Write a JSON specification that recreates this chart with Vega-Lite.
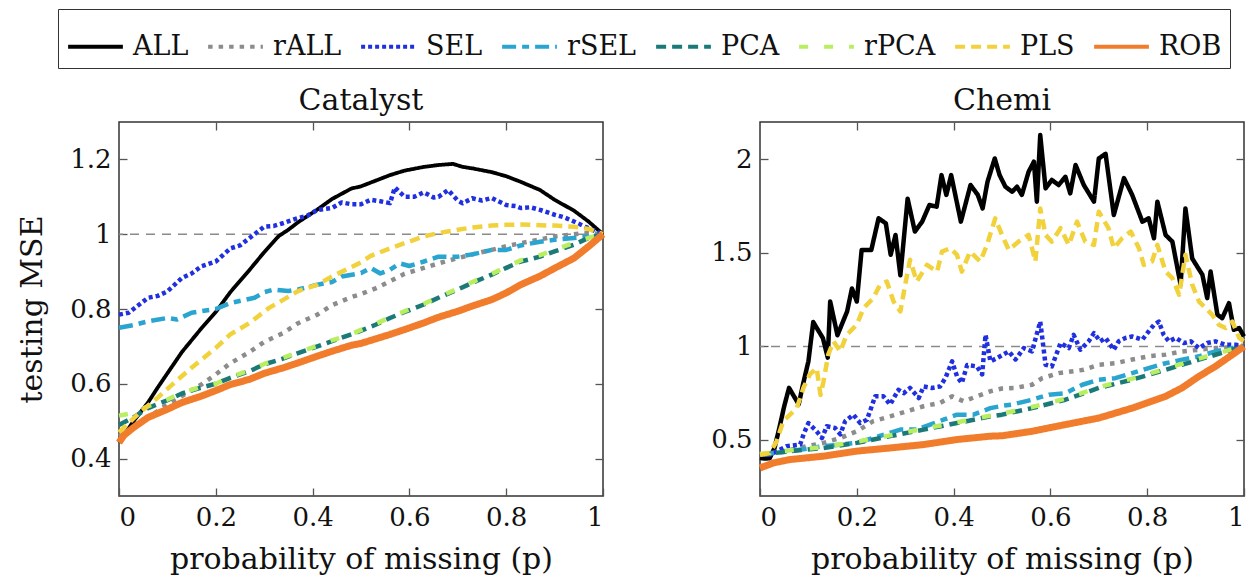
{
  "$schema": "https://vega.github.io/schema/vega-lite/v6.json",
  "padding": {"left": 16, "top": 8, "right": 4, "bottom": 4},
  "background": "white",
  "config": {
    "font": "DejaVu Serif",
    "view": {"stroke": "#333", "strokeWidth": 1.5},
    "axis": {
      "labelFont": "DejaVu Serif", "labelFontSize": 26, "labelColor": "#111",
      "titleFont": "DejaVu Serif", "titleFontSize": 30, "titleFontWeight": "normal", "titleColor": "#111",
      "domain": false, "grid": false, "tickColor": "#555", "tickWidth": 1.3, "tickSize": -8, "labelPadding": 16
    },
    "title": {"font": "DejaVu Serif", "fontSize": 30, "fontWeight": "normal", "color": "#111", "offset": 5},
    "line": {"strokeCap": "butt", "strokeJoin": "round"}
  },
  "datasets": {
    "cat": [
      {"m":"ALL","p":0,"v":0.443},{"m":"ALL","p":0.01,"v":0.462},{"m":"ALL","p":0.03,"v":0.5},{"m":"ALL","p":0.06,"v":0.55},{"m":"ALL","p":0.08,"v":0.59},{"m":"ALL","p":0.1,"v":0.628},{"m":"ALL","p":0.13,"v":0.685},{"m":"ALL","p":0.17,"v":0.748},{"m":"ALL","p":0.2,"v":0.792},{"m":"ALL","p":0.23,"v":0.845},{"m":"ALL","p":0.27,"v":0.905},{"m":"ALL","p":0.3,"v":0.952},{"m":"ALL","p":0.33,"v":0.995},{"m":"ALL","p":0.35,"v":1.012},{"m":"ALL","p":0.37,"v":1.032},{"m":"ALL","p":0.41,"v":1.066},{"m":"ALL","p":0.44,"v":1.094},{"m":"ALL","p":0.48,"v":1.122},{"m":"ALL","p":0.5,"v":1.128},{"m":"ALL","p":0.52,"v":1.138},{"m":"ALL","p":0.56,"v":1.158},{"m":"ALL","p":0.59,"v":1.17},{"m":"ALL","p":0.63,"v":1.18},{"m":"ALL","p":0.66,"v":1.185},{"m":"ALL","p":0.69,"v":1.188},{"m":"ALL","p":0.71,"v":1.18},{"m":"ALL","p":0.73,"v":1.176},{"m":"ALL","p":0.77,"v":1.166},{"m":"ALL","p":0.8,"v":1.155},{"m":"ALL","p":0.83,"v":1.14},{"m":"ALL","p":0.87,"v":1.118},{"m":"ALL","p":0.9,"v":1.092},{"m":"ALL","p":0.94,"v":1.063},{"m":"ALL","p":0.97,"v":1.034},{"m":"ALL","p":1,"v":1.0},
      {"m":"rALL","p":0,"v":0.46},{"m":"rALL","p":0.05,"v":0.5},{"m":"rALL","p":0.1,"v":0.545},{"m":"rALL","p":0.14,"v":0.575},{"m":"rALL","p":0.17,"v":0.598},{"m":"rALL","p":0.2,"v":0.625},{"m":"rALL","p":0.23,"v":0.655},{"m":"rALL","p":0.27,"v":0.685},{"m":"rALL","p":0.3,"v":0.712},{"m":"rALL","p":0.34,"v":0.736},{"m":"rALL","p":0.37,"v":0.762},{"m":"rALL","p":0.41,"v":0.785},{"m":"rALL","p":0.44,"v":0.81},{"m":"rALL","p":0.48,"v":0.832},{"m":"rALL","p":0.5,"v":0.84},{"m":"rALL","p":0.53,"v":0.855},{"m":"rALL","p":0.56,"v":0.874},{"m":"rALL","p":0.59,"v":0.894},{"m":"rALL","p":0.63,"v":0.91},{"m":"rALL","p":0.66,"v":0.922},{"m":"rALL","p":0.7,"v":0.936},{"m":"rALL","p":0.73,"v":0.946},{"m":"rALL","p":0.77,"v":0.958},{"m":"rALL","p":0.8,"v":0.968},{"m":"rALL","p":0.83,"v":0.976},{"m":"rALL","p":0.87,"v":0.986},{"m":"rALL","p":0.9,"v":0.994},{"m":"rALL","p":0.94,"v":1.0},{"m":"rALL","p":0.97,"v":1.003},{"m":"rALL","p":1,"v":1.0},
      {"m":"SEL","p":0,"v":0.785},{"m":"SEL","p":0.02,"v":0.79},{"m":"SEL","p":0.04,"v":0.81},{"m":"SEL","p":0.06,"v":0.83},{"m":"SEL","p":0.08,"v":0.835},{"m":"SEL","p":0.1,"v":0.847},{"m":"SEL","p":0.13,"v":0.883},{"m":"SEL","p":0.15,"v":0.895},{"m":"SEL","p":0.17,"v":0.914},{"m":"SEL","p":0.2,"v":0.927},{"m":"SEL","p":0.23,"v":0.962},{"m":"SEL","p":0.25,"v":0.97},{"m":"SEL","p":0.27,"v":0.99},{"m":"SEL","p":0.3,"v":1.02},{"m":"SEL","p":0.32,"v":1.022},{"m":"SEL","p":0.34,"v":1.03},{"m":"SEL","p":0.37,"v":1.043},{"m":"SEL","p":0.39,"v":1.05},{"m":"SEL","p":0.41,"v":1.065},{"m":"SEL","p":0.44,"v":1.07},{"m":"SEL","p":0.46,"v":1.085},{"m":"SEL","p":0.48,"v":1.08},{"m":"SEL","p":0.5,"v":1.08},{"m":"SEL","p":0.52,"v":1.092},{"m":"SEL","p":0.54,"v":1.088},{"m":"SEL","p":0.56,"v":1.083},{"m":"SEL","p":0.57,"v":1.125},{"m":"SEL","p":0.59,"v":1.1},{"m":"SEL","p":0.61,"v":1.1},{"m":"SEL","p":0.63,"v":1.112},{"m":"SEL","p":0.65,"v":1.098},{"m":"SEL","p":0.66,"v":1.1},{"m":"SEL","p":0.68,"v":1.118},{"m":"SEL","p":0.7,"v":1.09},{"m":"SEL","p":0.71,"v":1.083},{"m":"SEL","p":0.73,"v":1.096},{"m":"SEL","p":0.75,"v":1.09},{"m":"SEL","p":0.77,"v":1.097},{"m":"SEL","p":0.8,"v":1.078},{"m":"SEL","p":0.82,"v":1.075},{"m":"SEL","p":0.83,"v":1.07},{"m":"SEL","p":0.85,"v":1.072},{"m":"SEL","p":0.87,"v":1.065},{"m":"SEL","p":0.9,"v":1.052},{"m":"SEL","p":0.92,"v":1.045},{"m":"SEL","p":0.94,"v":1.034},{"m":"SEL","p":0.97,"v":1.016},{"m":"SEL","p":1,"v":1.0},
      {"m":"rSEL","p":0,"v":0.75},{"m":"rSEL","p":0.03,"v":0.757},{"m":"rSEL","p":0.06,"v":0.767},{"m":"rSEL","p":0.1,"v":0.776},{"m":"rSEL","p":0.12,"v":0.772},{"m":"rSEL","p":0.15,"v":0.79},{"m":"rSEL","p":0.2,"v":0.8},{"m":"rSEL","p":0.23,"v":0.816},{"m":"rSEL","p":0.28,"v":0.83},{"m":"rSEL","p":0.3,"v":0.845},{"m":"rSEL","p":0.32,"v":0.852},{"m":"rSEL","p":0.35,"v":0.848},{"m":"rSEL","p":0.37,"v":0.852},{"m":"rSEL","p":0.41,"v":0.865},{"m":"rSEL","p":0.44,"v":0.872},{"m":"rSEL","p":0.46,"v":0.887},{"m":"rSEL","p":0.5,"v":0.896},{"m":"rSEL","p":0.52,"v":0.91},{"m":"rSEL","p":0.54,"v":0.895},{"m":"rSEL","p":0.56,"v":0.905},{"m":"rSEL","p":0.58,"v":0.922},{"m":"rSEL","p":0.6,"v":0.915},{"m":"rSEL","p":0.63,"v":0.927},{"m":"rSEL","p":0.66,"v":0.94},{"m":"rSEL","p":0.7,"v":0.94},{"m":"rSEL","p":0.73,"v":0.946},{"m":"rSEL","p":0.77,"v":0.958},{"m":"rSEL","p":0.8,"v":0.958},{"m":"rSEL","p":0.83,"v":0.97},{"m":"rSEL","p":0.87,"v":0.98},{"m":"rSEL","p":0.9,"v":0.985},{"m":"rSEL","p":0.94,"v":0.99},{"m":"rSEL","p":0.97,"v":0.994},{"m":"rSEL","p":1,"v":1.0},
      {"m":"PCA","p":0,"v":0.49},{"m":"PCA","p":0.03,"v":0.51},{"m":"PCA","p":0.06,"v":0.535},{"m":"PCA","p":0.1,"v":0.556},{"m":"PCA","p":0.13,"v":0.574},{"m":"PCA","p":0.17,"v":0.59},{"m":"PCA","p":0.2,"v":0.6},{"m":"PCA","p":0.23,"v":0.616},{"m":"PCA","p":0.27,"v":0.634},{"m":"PCA","p":0.3,"v":0.652},{"m":"PCA","p":0.34,"v":0.668},{"m":"PCA","p":0.37,"v":0.682},{"m":"PCA","p":0.41,"v":0.7},{"m":"PCA","p":0.44,"v":0.714},{"m":"PCA","p":0.48,"v":0.732},{"m":"PCA","p":0.5,"v":0.742},{"m":"PCA","p":0.53,"v":0.758},{"m":"PCA","p":0.56,"v":0.776},{"m":"PCA","p":0.59,"v":0.792},{"m":"PCA","p":0.63,"v":0.812},{"m":"PCA","p":0.66,"v":0.83},{"m":"PCA","p":0.7,"v":0.852},{"m":"PCA","p":0.73,"v":0.87},{"m":"PCA","p":0.77,"v":0.892},{"m":"PCA","p":0.8,"v":0.91},{"m":"PCA","p":0.83,"v":0.927},{"m":"PCA","p":0.87,"v":0.94},{"m":"PCA","p":0.9,"v":0.954},{"m":"PCA","p":0.94,"v":0.972},{"m":"PCA","p":0.97,"v":0.99},{"m":"PCA","p":1,"v":1.0},
      {"m":"rPCA","p":0,"v":0.515},{"m":"rPCA","p":0.03,"v":0.522},{"m":"rPCA","p":0.06,"v":0.54},{"m":"rPCA","p":0.1,"v":0.558},{"m":"rPCA","p":0.13,"v":0.576},{"m":"rPCA","p":0.17,"v":0.592},{"m":"rPCA","p":0.2,"v":0.6},{"m":"rPCA","p":0.23,"v":0.618},{"m":"rPCA","p":0.27,"v":0.636},{"m":"rPCA","p":0.3,"v":0.653},{"m":"rPCA","p":0.34,"v":0.67},{"m":"rPCA","p":0.37,"v":0.684},{"m":"rPCA","p":0.41,"v":0.702},{"m":"rPCA","p":0.44,"v":0.716},{"m":"rPCA","p":0.48,"v":0.733},{"m":"rPCA","p":0.5,"v":0.744},{"m":"rPCA","p":0.53,"v":0.76},{"m":"rPCA","p":0.56,"v":0.778},{"m":"rPCA","p":0.59,"v":0.794},{"m":"rPCA","p":0.63,"v":0.814},{"m":"rPCA","p":0.66,"v":0.832},{"m":"rPCA","p":0.7,"v":0.854},{"m":"rPCA","p":0.73,"v":0.872},{"m":"rPCA","p":0.77,"v":0.894},{"m":"rPCA","p":0.8,"v":0.912},{"m":"rPCA","p":0.83,"v":0.93},{"m":"rPCA","p":0.87,"v":0.944},{"m":"rPCA","p":0.9,"v":0.958},{"m":"rPCA","p":0.94,"v":0.977},{"m":"rPCA","p":0.97,"v":0.99},{"m":"rPCA","p":1,"v":1.0},
      {"m":"PLS","p":0,"v":0.47},{"m":"PLS","p":0.04,"v":0.52},{"m":"PLS","p":0.08,"v":0.563},{"m":"PLS","p":0.11,"v":0.598},{"m":"PLS","p":0.15,"v":0.643},{"m":"PLS","p":0.2,"v":0.696},{"m":"PLS","p":0.23,"v":0.732},{"m":"PLS","p":0.27,"v":0.763},{"m":"PLS","p":0.31,"v":0.803},{"m":"PLS","p":0.34,"v":0.825},{"m":"PLS","p":0.37,"v":0.848},{"m":"PLS","p":0.41,"v":0.865},{"m":"PLS","p":0.44,"v":0.887},{"m":"PLS","p":0.48,"v":0.912},{"m":"PLS","p":0.5,"v":0.925},{"m":"PLS","p":0.52,"v":0.942},{"m":"PLS","p":0.56,"v":0.962},{"m":"PLS","p":0.59,"v":0.976},{"m":"PLS","p":0.63,"v":0.994},{"m":"PLS","p":0.66,"v":1.003},{"m":"PLS","p":0.7,"v":1.012},{"m":"PLS","p":0.73,"v":1.018},{"m":"PLS","p":0.77,"v":1.023},{"m":"PLS","p":0.8,"v":1.025},{"m":"PLS","p":0.83,"v":1.026},{"m":"PLS","p":0.87,"v":1.024},{"m":"PLS","p":0.9,"v":1.023},{"m":"PLS","p":0.94,"v":1.02},{"m":"PLS","p":0.97,"v":1.014},{"m":"PLS","p":1,"v":1.0},
      {"m":"ROB","p":0,"v":0.443},{"m":"ROB","p":0.01,"v":0.462},{"m":"ROB","p":0.03,"v":0.483},{"m":"ROB","p":0.06,"v":0.51},{"m":"ROB","p":0.1,"v":0.532},{"m":"ROB","p":0.13,"v":0.55},{"m":"ROB","p":0.17,"v":0.567},{"m":"ROB","p":0.2,"v":0.582},{"m":"ROB","p":0.23,"v":0.598},{"m":"ROB","p":0.27,"v":0.612},{"m":"ROB","p":0.3,"v":0.628},{"m":"ROB","p":0.34,"v":0.643},{"m":"ROB","p":0.37,"v":0.656},{"m":"ROB","p":0.41,"v":0.674},{"m":"ROB","p":0.44,"v":0.687},{"m":"ROB","p":0.48,"v":0.703},{"m":"ROB","p":0.5,"v":0.708},{"m":"ROB","p":0.53,"v":0.72},{"m":"ROB","p":0.56,"v":0.732},{"m":"ROB","p":0.59,"v":0.745},{"m":"ROB","p":0.63,"v":0.763},{"m":"ROB","p":0.66,"v":0.778},{"m":"ROB","p":0.7,"v":0.794},{"m":"ROB","p":0.73,"v":0.808},{"m":"ROB","p":0.77,"v":0.825},{"m":"ROB","p":0.8,"v":0.843},{"m":"ROB","p":0.83,"v":0.865},{"m":"ROB","p":0.87,"v":0.888},{"m":"ROB","p":0.9,"v":0.909},{"m":"ROB","p":0.94,"v":0.936},{"m":"ROB","p":0.97,"v":0.967},{"m":"ROB","p":1,"v":1.0}
    ],
    "che": [
      {"m":"ALL","p":0,"v":0.404},{"m":"ALL","p":0.01,"v":0.4},{"m":"ALL","p":0.02,"v":0.402},{"m":"ALL","p":0.03,"v":0.457},{"m":"ALL","p":0.04,"v":0.564},{"m":"ALL","p":0.05,"v":0.68},{"m":"ALL","p":0.06,"v":0.778},{"m":"ALL","p":0.08,"v":0.69},{"m":"ALL","p":0.09,"v":0.81},{"m":"ALL","p":0.1,"v":0.92},{"m":"ALL","p":0.11,"v":1.13},{"m":"ALL","p":0.13,"v":1.044},{"m":"ALL","p":0.14,"v":0.94},{"m":"ALL","p":0.145,"v":1.24},{"m":"ALL","p":0.16,"v":1.06},{"m":"ALL","p":0.18,"v":1.187},{"m":"ALL","p":0.19,"v":1.31},{"m":"ALL","p":0.2,"v":1.24},{"m":"ALL","p":0.21,"v":1.516},{"m":"ALL","p":0.23,"v":1.516},{"m":"ALL","p":0.245,"v":1.685},{"m":"ALL","p":0.26,"v":1.658},{"m":"ALL","p":0.27,"v":1.49},{"m":"ALL","p":0.28,"v":1.596},{"m":"ALL","p":0.29,"v":1.38},{"m":"ALL","p":0.305,"v":1.79},{"m":"ALL","p":0.32,"v":1.614},{"m":"ALL","p":0.335,"v":1.667},{"m":"ALL","p":0.35,"v":1.756},{"m":"ALL","p":0.365,"v":1.747},{"m":"ALL","p":0.375,"v":1.916},{"m":"ALL","p":0.385,"v":1.81},{"m":"ALL","p":0.395,"v":1.916},{"m":"ALL","p":0.415,"v":1.667},{"m":"ALL","p":0.435,"v":1.863},{"m":"ALL","p":0.45,"v":1.81},{"m":"ALL","p":0.46,"v":1.738},{"m":"ALL","p":0.47,"v":1.88},{"m":"ALL","p":0.485,"v":2.005},{"m":"ALL","p":0.495,"v":1.916},{"m":"ALL","p":0.507,"v":1.854},{"m":"ALL","p":0.521,"v":1.827},{"m":"ALL","p":0.531,"v":1.854},{"m":"ALL","p":0.541,"v":1.81},{"m":"ALL","p":0.555,"v":1.934},{"m":"ALL","p":0.566,"v":1.988},{"m":"ALL","p":0.572,"v":1.774},{"m":"ALL","p":0.579,"v":2.13},{"m":"ALL","p":0.59,"v":1.845},{"m":"ALL","p":0.603,"v":1.89},{"m":"ALL","p":0.617,"v":1.863},{"m":"ALL","p":0.631,"v":1.907},{"m":"ALL","p":0.641,"v":1.818},{"m":"ALL","p":0.652,"v":1.97},{"m":"ALL","p":0.669,"v":1.863},{"m":"ALL","p":0.69,"v":1.774},{"m":"ALL","p":0.7,"v":2.005},{"m":"ALL","p":0.714,"v":2.03},{"m":"ALL","p":0.731,"v":1.703},{"m":"ALL","p":0.752,"v":1.9},{"m":"ALL","p":0.769,"v":1.81},{"m":"ALL","p":0.79,"v":1.667},{"m":"ALL","p":0.803,"v":1.685},{"m":"ALL","p":0.814,"v":1.578},{"m":"ALL","p":0.821,"v":1.774},{"m":"ALL","p":0.838,"v":1.596},{"m":"ALL","p":0.852,"v":1.56},{"m":"ALL","p":0.869,"v":1.33},{"m":"ALL","p":0.879,"v":1.738},{"m":"ALL","p":0.893,"v":1.47},{"m":"ALL","p":0.914,"v":1.383},{"m":"ALL","p":0.924,"v":1.258},{"m":"ALL","p":0.931,"v":1.4},{"m":"ALL","p":0.945,"v":1.17},{"m":"ALL","p":0.955,"v":1.151},{"m":"ALL","p":0.969,"v":1.231},{"m":"ALL","p":0.979,"v":1.089},{"m":"ALL","p":0.99,"v":1.098},{"m":"ALL","p":1,"v":1.053},
      {"m":"rALL","p":0,"v":0.42},{"m":"rALL","p":0.05,"v":0.44},{"m":"rALL","p":0.097,"v":0.466},{"m":"rALL","p":0.131,"v":0.484},{"m":"rALL","p":0.166,"v":0.51},{"m":"rALL","p":0.2,"v":0.546},{"m":"rALL","p":0.234,"v":0.6},{"m":"rALL","p":0.269,"v":0.626},{"m":"rALL","p":0.303,"v":0.653},{"m":"rALL","p":0.338,"v":0.68},{"m":"rALL","p":0.372,"v":0.698},{"m":"rALL","p":0.397,"v":0.733},{"m":"rALL","p":0.421,"v":0.706},{"m":"rALL","p":0.448,"v":0.733},{"m":"rALL","p":0.476,"v":0.76},{"m":"rALL","p":0.5,"v":0.775},{"m":"rALL","p":0.528,"v":0.778},{"m":"rALL","p":0.562,"v":0.795},{"m":"rALL","p":0.583,"v":0.83},{"m":"rALL","p":0.617,"v":0.857},{"m":"rALL","p":0.669,"v":0.875},{"m":"rALL","p":0.7,"v":0.902},{"m":"rALL","p":0.734,"v":0.91},{"m":"rALL","p":0.769,"v":0.93},{"m":"rALL","p":0.803,"v":0.947},{"m":"rALL","p":0.838,"v":0.956},{"m":"rALL","p":0.872,"v":0.973},{"m":"rALL","p":0.907,"v":0.982},{"m":"rALL","p":0.941,"v":0.991},{"m":"rALL","p":0.976,"v":0.995},{"m":"rALL","p":1,"v":1.0},
      {"m":"SEL","p":0,"v":0.42},{"m":"SEL","p":0.02,"v":0.42},{"m":"SEL","p":0.055,"v":0.466},{"m":"SEL","p":0.083,"v":0.475},{"m":"SEL","p":0.09,"v":0.53},{"m":"SEL","p":0.1,"v":0.59},{"m":"SEL","p":0.117,"v":0.546},{"m":"SEL","p":0.128,"v":0.51},{"m":"SEL","p":0.138,"v":0.573},{"m":"SEL","p":0.155,"v":0.564},{"m":"SEL","p":0.166,"v":0.53},{"m":"SEL","p":0.176,"v":0.6},{"m":"SEL","p":0.193,"v":0.635},{"m":"SEL","p":0.207,"v":0.59},{"m":"SEL","p":0.221,"v":0.608},{"m":"SEL","p":0.238,"v":0.733},{"m":"SEL","p":0.255,"v":0.733},{"m":"SEL","p":0.269,"v":0.689},{"m":"SEL","p":0.286,"v":0.768},{"m":"SEL","p":0.297,"v":0.75},{"m":"SEL","p":0.31,"v":0.778},{"m":"SEL","p":0.328,"v":0.724},{"m":"SEL","p":0.338,"v":0.786},{"m":"SEL","p":0.355,"v":0.778},{"m":"SEL","p":0.372,"v":0.786},{"m":"SEL","p":0.383,"v":0.83},{"m":"SEL","p":0.397,"v":0.92},{"m":"SEL","p":0.407,"v":0.84},{"m":"SEL","p":0.417,"v":0.804},{"m":"SEL","p":0.428,"v":0.9},{"m":"SEL","p":0.448,"v":0.893},{"m":"SEL","p":0.459,"v":0.85},{"m":"SEL","p":0.466,"v":1.062},{"m":"SEL","p":0.476,"v":0.92},{"m":"SEL","p":0.49,"v":0.938},{"m":"SEL","p":0.514,"v":0.973},{"m":"SEL","p":0.528,"v":0.93},{"m":"SEL","p":0.545,"v":0.991},{"m":"SEL","p":0.562,"v":0.973},{"m":"SEL","p":0.579,"v":1.133},{"m":"SEL","p":0.59,"v":0.902},{"m":"SEL","p":0.603,"v":0.893},{"m":"SEL","p":0.621,"v":1.018},{"m":"SEL","p":0.638,"v":0.991},{"m":"SEL","p":0.648,"v":1.062},{"m":"SEL","p":0.662,"v":0.982},{"m":"SEL","p":0.679,"v":1.027},{"m":"SEL","p":0.69,"v":1.071},{"m":"SEL","p":0.703,"v":1.027},{"m":"SEL","p":0.714,"v":1.045},{"m":"SEL","p":0.731,"v":0.982},{"m":"SEL","p":0.741,"v":1.027},{"m":"SEL","p":0.755,"v":1.045},{"m":"SEL","p":0.769,"v":1.053},{"m":"SEL","p":0.79,"v":1.036},{"m":"SEL","p":0.803,"v":1.08},{"m":"SEL","p":0.814,"v":1.116},{"m":"SEL","p":0.824,"v":1.133},{"m":"SEL","p":0.834,"v":1.062},{"m":"SEL","p":0.845,"v":1.027},{"m":"SEL","p":0.859,"v":1.045},{"m":"SEL","p":0.876,"v":1.018},{"m":"SEL","p":0.89,"v":1.027},{"m":"SEL","p":0.907,"v":0.991},{"m":"SEL","p":0.924,"v":1.018},{"m":"SEL","p":0.941,"v":1.027},{"m":"SEL","p":0.962,"v":1.009},{"m":"SEL","p":0.983,"v":1.009},{"m":"SEL","p":1,"v":1.0},
      {"m":"rSEL","p":0,"v":0.42},{"m":"rSEL","p":0.062,"v":0.44},{"m":"rSEL","p":0.131,"v":0.466},{"m":"rSEL","p":0.2,"v":0.484},{"m":"rSEL","p":0.234,"v":0.51},{"m":"rSEL","p":0.29,"v":0.555},{"m":"rSEL","p":0.324,"v":0.555},{"m":"rSEL","p":0.379,"v":0.608},{"m":"rSEL","p":0.407,"v":0.635},{"m":"rSEL","p":0.441,"v":0.635},{"m":"rSEL","p":0.476,"v":0.67},{"m":"rSEL","p":0.5,"v":0.682},{"m":"rSEL","p":0.521,"v":0.689},{"m":"rSEL","p":0.562,"v":0.715},{"m":"rSEL","p":0.597,"v":0.742},{"m":"rSEL","p":0.631,"v":0.75},{"m":"rSEL","p":0.666,"v":0.795},{"m":"rSEL","p":0.7,"v":0.822},{"m":"rSEL","p":0.734,"v":0.83},{"m":"rSEL","p":0.769,"v":0.857},{"m":"rSEL","p":0.803,"v":0.884},{"m":"rSEL","p":0.838,"v":0.91},{"m":"rSEL","p":0.872,"v":0.929},{"m":"rSEL","p":0.907,"v":0.947},{"m":"rSEL","p":0.941,"v":0.973},{"m":"rSEL","p":0.976,"v":0.991},{"m":"rSEL","p":1,"v":1.0},
      {"m":"PCA","p":0,"v":0.42},{"m":"PCA","p":0.062,"v":0.44},{"m":"PCA","p":0.131,"v":0.457},{"m":"PCA","p":0.2,"v":0.484},{"m":"PCA","p":0.269,"v":0.52},{"m":"PCA","p":0.338,"v":0.555},{"m":"PCA","p":0.407,"v":0.59},{"m":"PCA","p":0.476,"v":0.626},{"m":"PCA","p":0.5,"v":0.635},{"m":"PCA","p":0.562,"v":0.67},{"m":"PCA","p":0.631,"v":0.715},{"m":"PCA","p":0.7,"v":0.778},{"m":"PCA","p":0.769,"v":0.822},{"m":"PCA","p":0.838,"v":0.875},{"m":"PCA","p":0.907,"v":0.929},{"m":"PCA","p":0.976,"v":0.982},{"m":"PCA","p":1,"v":1.0},
      {"m":"rPCA","p":0,"v":0.425},{"m":"rPCA","p":0.062,"v":0.444},{"m":"rPCA","p":0.131,"v":0.462},{"m":"rPCA","p":0.2,"v":0.49},{"m":"rPCA","p":0.269,"v":0.524},{"m":"rPCA","p":0.338,"v":0.56},{"m":"rPCA","p":0.407,"v":0.594},{"m":"rPCA","p":0.476,"v":0.63},{"m":"rPCA","p":0.5,"v":0.64},{"m":"rPCA","p":0.562,"v":0.676},{"m":"rPCA","p":0.631,"v":0.72},{"m":"rPCA","p":0.7,"v":0.782},{"m":"rPCA","p":0.769,"v":0.828},{"m":"rPCA","p":0.838,"v":0.88},{"m":"rPCA","p":0.907,"v":0.935},{"m":"rPCA","p":0.976,"v":0.985},{"m":"rPCA","p":1,"v":1.0},
      {"m":"PLS","p":0,"v":0.42},{"m":"PLS","p":0.02,"v":0.43},{"m":"PLS","p":0.034,"v":0.49},{"m":"PLS","p":0.048,"v":0.6},{"m":"PLS","p":0.062,"v":0.635},{"m":"PLS","p":0.076,"v":0.67},{"m":"PLS","p":0.09,"v":0.78},{"m":"PLS","p":0.103,"v":0.85},{"m":"PLS","p":0.117,"v":0.885},{"m":"PLS","p":0.125,"v":0.74},{"m":"PLS","p":0.131,"v":0.81},{"m":"PLS","p":0.141,"v":0.956},{"m":"PLS","p":0.152,"v":1.027},{"m":"PLS","p":0.166,"v":0.973},{"m":"PLS","p":0.179,"v":1.062},{"m":"PLS","p":0.2,"v":1.116},{"m":"PLS","p":0.214,"v":1.205},{"m":"PLS","p":0.234,"v":1.258},{"m":"PLS","p":0.248,"v":1.33},{"m":"PLS","p":0.262,"v":1.347},{"m":"PLS","p":0.276,"v":1.24},{"m":"PLS","p":0.29,"v":1.187},{"m":"PLS","p":0.3,"v":1.33},{"m":"PLS","p":0.31,"v":1.463},{"m":"PLS","p":0.324,"v":1.347},{"m":"PLS","p":0.345,"v":1.436},{"m":"PLS","p":0.366,"v":1.4},{"m":"PLS","p":0.376,"v":1.507},{"m":"PLS","p":0.393,"v":1.525},{"m":"PLS","p":0.407,"v":1.49},{"m":"PLS","p":0.417,"v":1.4},{"m":"PLS","p":0.434,"v":1.507},{"m":"PLS","p":0.455,"v":1.454},{"m":"PLS","p":0.469,"v":1.543},{"m":"PLS","p":0.486,"v":1.685},{"m":"PLS","p":0.5,"v":1.596},{"m":"PLS","p":0.514,"v":1.516},{"m":"PLS","p":0.534,"v":1.56},{"m":"PLS","p":0.555,"v":1.596},{"m":"PLS","p":0.569,"v":1.454},{"m":"PLS","p":0.579,"v":1.738},{"m":"PLS","p":0.59,"v":1.596},{"m":"PLS","p":0.603,"v":1.56},{"m":"PLS","p":0.621,"v":1.632},{"m":"PLS","p":0.638,"v":1.543},{"m":"PLS","p":0.655,"v":1.667},{"m":"PLS","p":0.672,"v":1.56},{"m":"PLS","p":0.69,"v":1.543},{"m":"PLS","p":0.7,"v":1.72},{"m":"PLS","p":0.72,"v":1.632},{"m":"PLS","p":0.731,"v":1.525},{"m":"PLS","p":0.748,"v":1.578},{"m":"PLS","p":0.766,"v":1.614},{"m":"PLS","p":0.783,"v":1.525},{"m":"PLS","p":0.793,"v":1.436},{"m":"PLS","p":0.81,"v":1.454},{"m":"PLS","p":0.821,"v":1.543},{"m":"PLS","p":0.838,"v":1.4},{"m":"PLS","p":0.852,"v":1.365},{"m":"PLS","p":0.866,"v":1.276},{"m":"PLS","p":0.879,"v":1.49},{"m":"PLS","p":0.893,"v":1.33},{"m":"PLS","p":0.907,"v":1.24},{"m":"PLS","p":0.921,"v":1.205},{"m":"PLS","p":0.934,"v":1.17},{"m":"PLS","p":0.948,"v":1.116},{"m":"PLS","p":0.962,"v":1.098},{"m":"PLS","p":0.976,"v":1.133},{"m":"PLS","p":0.99,"v":1.045},{"m":"PLS","p":1,"v":1.027},
      {"m":"ROB","p":0,"v":0.35},{"m":"ROB","p":0.028,"v":0.377},{"m":"ROB","p":0.062,"v":0.395},{"m":"ROB","p":0.131,"v":0.413},{"m":"ROB","p":0.2,"v":0.44},{"m":"ROB","p":0.269,"v":0.457},{"m":"ROB","p":0.338,"v":0.475},{"m":"ROB","p":0.407,"v":0.502},{"m":"ROB","p":0.476,"v":0.52},{"m":"ROB","p":0.5,"v":0.522},{"m":"ROB","p":0.562,"v":0.546},{"m":"ROB","p":0.631,"v":0.582},{"m":"ROB","p":0.7,"v":0.617},{"m":"ROB","p":0.769,"v":0.67},{"m":"ROB","p":0.838,"v":0.733},{"m":"ROB","p":0.872,"v":0.778},{"m":"ROB","p":0.907,"v":0.84},{"m":"ROB","p":0.941,"v":0.893},{"m":"ROB","p":0.976,"v":0.956},{"m":"ROB","p":1,"v":1.0}
    ]
  },
  "spacing": 101,
  "hconcat": [
    {
      "width": 484, "height": 374,
      "title": {"text": "Catalyst"},
      "layer": [
        {
          "data": {"values": [{}]},
          "mark": {"type": "rule", "color": "#8a8a8a", "strokeWidth": 1.5, "strokeDash": [9, 7]},
          "encoding": {"y": {"datum": 1, "type": "quantitative", "scale": {"domain": [0.3, 1.3], "nice": false, "zero": false}, "axis": null}}
        },
        {
          "data": {"name": "cat"},
          "mark": {"type": "line"},
          "encoding": {
            "x": {"field": "p", "type": "quantitative", "scale": {"domain": [0, 1], "nice": false}, "axis": {"title": "probability of missing (p)", "values": [0, 0.2, 0.4, 0.6, 0.8, 1], "format": "~g", "titlePadding": 14}},
            "y": {"field": "v", "type": "quantitative", "scale": {"domain": [0.3, 1.3], "nice": false, "zero": false}, "axis": {"title": "testing MSE", "values": [0.4, 0.6, 0.8, 1, 1.2], "format": "~g", "titlePadding": 22}},
            "color": {"field": "m", "type": "nominal",
              "scale": {"domain": ["ALL","rALL","SEL","rSEL","PCA","rPCA","PLS","ROB"], "range": ["#000000","#8c8c8c","#2030e0","#2aa5d0","#1b7a78","#b8ee60","#f2d23c","#f07c2c"]},
              "legend": {"title": null, "orient": "none", "legendX": -61, "legendY": -113, "direction": "horizontal", "columns": 8, "symbolType": "stroke", "symbolSize": 3000, "symbolStrokeWidth": 4, "labelFont": "DejaVu Serif", "labelFontSize": 27, "labelColor": "#111", "strokeColor": "#333", "padding": 8, "columnPadding": 17, "labelOffset": 8,
                "encode": {"symbols": {"update": {"strokeWidth": {"signal": "datum.value === 'ROB' ? 7 : (datum.value === 'ALL' ? 3.8 : 4.5)"}}}}}},
            "strokeDash": {"field": "m", "type": "nominal",
              "scale": {"domain": ["ALL","rALL","SEL","rSEL","PCA","rPCA","PLS","ROB"], "range": [[1,0],[4.5,6],[4,3],[14,6,7,6],[10,6],[9,16],[10,6],[1,0]]},
              "legend": {"title": null, "orient": "none", "legendX": -61, "legendY": -113, "direction": "horizontal", "columns": 8, "symbolType": "stroke", "symbolSize": 3000, "symbolStrokeWidth": 4, "labelFont": "DejaVu Serif", "labelFontSize": 27, "labelColor": "#111", "strokeColor": "#333", "padding": 8, "columnPadding": 17, "labelOffset": 8,
                "encode": {"symbols": {"update": {"strokeWidth": {"signal": "datum.value === 'ROB' ? 7 : (datum.value === 'ALL' ? 3.8 : 4.5)"}}}}}},
            "strokeWidth": {"condition": [{"test": "datum.m === 'ROB'", "value": 7}, {"test": "datum.m === 'ALL'", "value": 3.8}], "value": 4.5}
          }
        },
        {
          "data": {"values": [{}]},
          "mark": {"type": "point", "opacity": 0},
          "encoding": {
            "x": {"datum": 0.5, "type": "quantitative", "scale": {"domain": [0, 1], "nice": false}, "axis": {"orient": "top", "labels": false, "title": null, "values": [0.2, 0.4, 0.6, 0.8]}},
            "y": {"datum": 1, "type": "quantitative", "scale": {"domain": [0.3, 1.3], "nice": false, "zero": false}, "axis": {"orient": "right", "labels": false, "title": null, "values": [0.4, 0.6, 0.8, 1, 1.2]}}
          }
        }
      ],
      "resolve": {"axis": {"x": "independent", "y": "independent"}}
    },
    {
      "width": 484, "height": 374,
      "title": {"text": "Chemi"},
      "layer": [
        {
          "data": {"values": [{}]},
          "mark": {"type": "rule", "color": "#8a8a8a", "strokeWidth": 1.5, "strokeDash": [9, 7]},
          "encoding": {"y": {"datum": 1, "type": "quantitative", "scale": {"domain": [0.2, 2.2], "nice": false, "zero": false}, "axis": null}}
        },
        {
          "data": {"name": "che"},
          "mark": {"type": "line"},
          "encoding": {
            "x": {"field": "p", "type": "quantitative", "scale": {"domain": [0, 1], "nice": false}, "axis": {"title": "probability of missing (p)", "values": [0, 0.2, 0.4, 0.6, 0.8, 1], "format": "~g", "titlePadding": 14}},
            "y": {"field": "v", "type": "quantitative", "scale": {"domain": [0.2, 2.2], "nice": false, "zero": false}, "axis": {"title": null, "values": [0.5, 1, 1.5, 2], "format": "~g"}},
            "color": {"field": "m", "type": "nominal",
              "scale": {"domain": ["ALL","rALL","SEL","rSEL","PCA","rPCA","PLS","ROB"], "range": ["#000000","#8c8c8c","#2030e0","#2aa5d0","#1b7a78","#b8ee60","#f2d23c","#f07c2c"]}},
            "strokeDash": {"field": "m", "type": "nominal",
              "scale": {"domain": ["ALL","rALL","SEL","rSEL","PCA","rPCA","PLS","ROB"], "range": [[1,0],[4.5,6],[4,3],[14,6,7,6],[10,6],[9,16],[10,6],[1,0]]}},
            "strokeWidth": {"condition": [{"test": "datum.m === 'ROB'", "value": 7}, {"test": "datum.m === 'ALL'", "value": 4.5}], "value": 4.5}
          }
        },
        {
          "data": {"values": [{}]},
          "mark": {"type": "point", "opacity": 0},
          "encoding": {
            "x": {"datum": 0.5, "type": "quantitative", "scale": {"domain": [0, 1], "nice": false}, "axis": {"orient": "top", "labels": false, "title": null, "values": [0.2, 0.4, 0.6, 0.8]}},
            "y": {"datum": 1, "type": "quantitative", "scale": {"domain": [0.2, 2.2], "nice": false, "zero": false}, "axis": {"orient": "right", "labels": false, "title": null, "values": [0.5, 1, 1.5, 2]}}
          }
        }
      ],
      "resolve": {"axis": {"x": "independent", "y": "independent"}}
    }
  ]
}
